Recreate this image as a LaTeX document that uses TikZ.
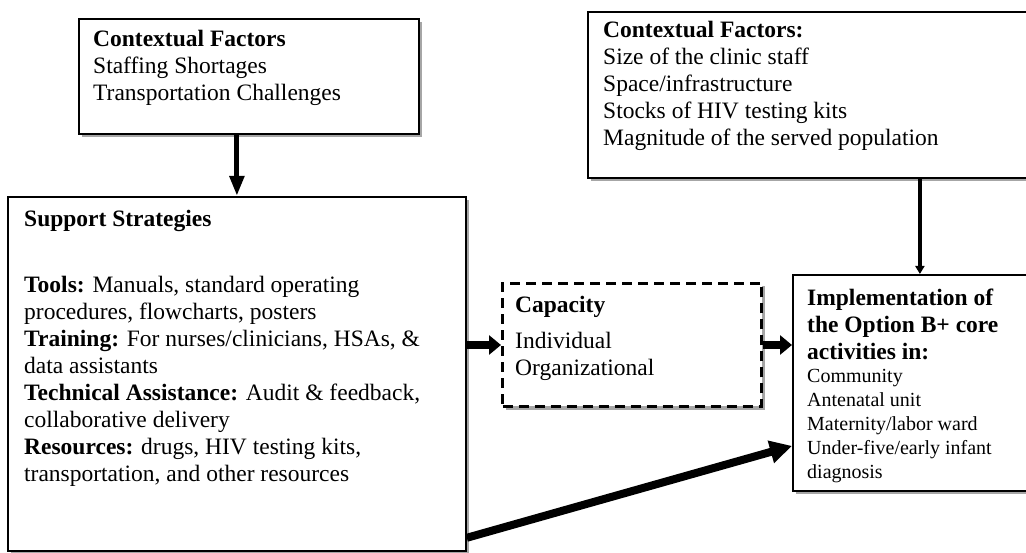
\documentclass[tikz,border=0pt]{standalone}
\usepackage{fontspec}
\setmainfont{Liberation Serif}
\usetikzlibrary{arrows.meta,shadows}
\begin{document}
\begin{tikzpicture}[x=1pt,y=-1pt,
  box/.style={draw=black, line width=1.8pt, fill=white, rectangle, inner sep=0pt, anchor=north west,
    drop shadow={shadow xshift=3pt, shadow yshift=-3pt, fill=black!35, opacity=1}},
  dashbox/.style={box, line width=3pt, dash pattern=on 10pt off 6pt},
  txt/.style={anchor=north west, inner sep=0pt, align=left, font=\fontsize{23.5}{27}\selectfont},
  arr/.style={line width=5pt, -{Triangle[length=20pt,width=14pt]}},
  harr/.style={line width=8pt, -{Triangle[length=12pt,width=19pt]}},
  thinarr/.style={line width=4pt, -{Triangle[length=8pt,width=9pt]}},
  diagarr/.style={line width=8pt, -{Triangle[length=22pt,width=22pt]}}
]
\useasboundingbox (0,0) rectangle (1026,553);
% boxes
\node[box, minimum width=340pt, minimum height=115pt] (ctxA) at (78,18) {};
\node[box, minimum width=470pt, minimum height=166pt] (ctxB) at (587,11) {};
\node[box, minimum width=458pt, minimum height=354pt] (supp) at (7,196) {};
\node[dashbox, minimum width=259pt, minimum height=123pt] (cap) at (501,282) {};
\node[box, minimum width=254pt, minimum height=216pt] (impl) at (792,274) {};
% texts
\node[txt] (tA) at (93,28) {\rule{0pt}{18pt}\textbf{Contextual Factors}\\Staffing Shortages\\Transportation Challenges};
\node[txt] (tB) at (603,19) {\rule{0pt}{18pt}\textbf{Contextual Factors:}\\Size of the clinic staff\\Space/infrastructure\\Stocks of HIV testing kits\\Magnitude of the served population};
\node[txt] (tC) at (24,208) {\rule{0pt}{18pt}\textbf{Support Strategies}\\[39pt]
\textbf{Tools:} Manuals, standard operating\\
procedures, flowcharts, posters\\
\textbf{Training:} For nurses/clinicians, HSAs, \&\\
data assistants\\
\textbf{Technical Assistance:} Audit \& feedback,\\
collaborative delivery\\
\textbf{Resources:} drugs, HIV testing kits,\\
transportation, and other resources};
\node[txt] (tCap) at (515,294) {\rule{0pt}{18pt}\textbf{Capacity}\\[9pt]Individual\\Organizational};
\node[txt] (tImp) at (807,287) {\rule{0pt}{18pt}\textbf{Implementation of}\\\textbf{the Option B+ core}\\\textbf{activities in:}};
\node[txt, font=\fontsize{20}{24}\selectfont] (tImp2) at (807,367) {\rule{0pt}{15pt}Community\\Antenatal unit\\Maternity/labor ward\\Under-five/early infant\\diagnosis};
% connectors
\draw[arr] (supp.north |- ctxA.south) -- (supp.north);
\draw[thinarr] (impl.north |- ctxB.south) -- (impl.north);
\draw[harr] (supp.east |- cap.west) -- (cap.west);
\draw[harr] (cap.east) -- (impl.west |- cap.east);
\draw[diagarr] ([yshift=14pt]supp.south east) -- ([yshift=-63pt]impl.west);
\end{tikzpicture}
\end{document}
